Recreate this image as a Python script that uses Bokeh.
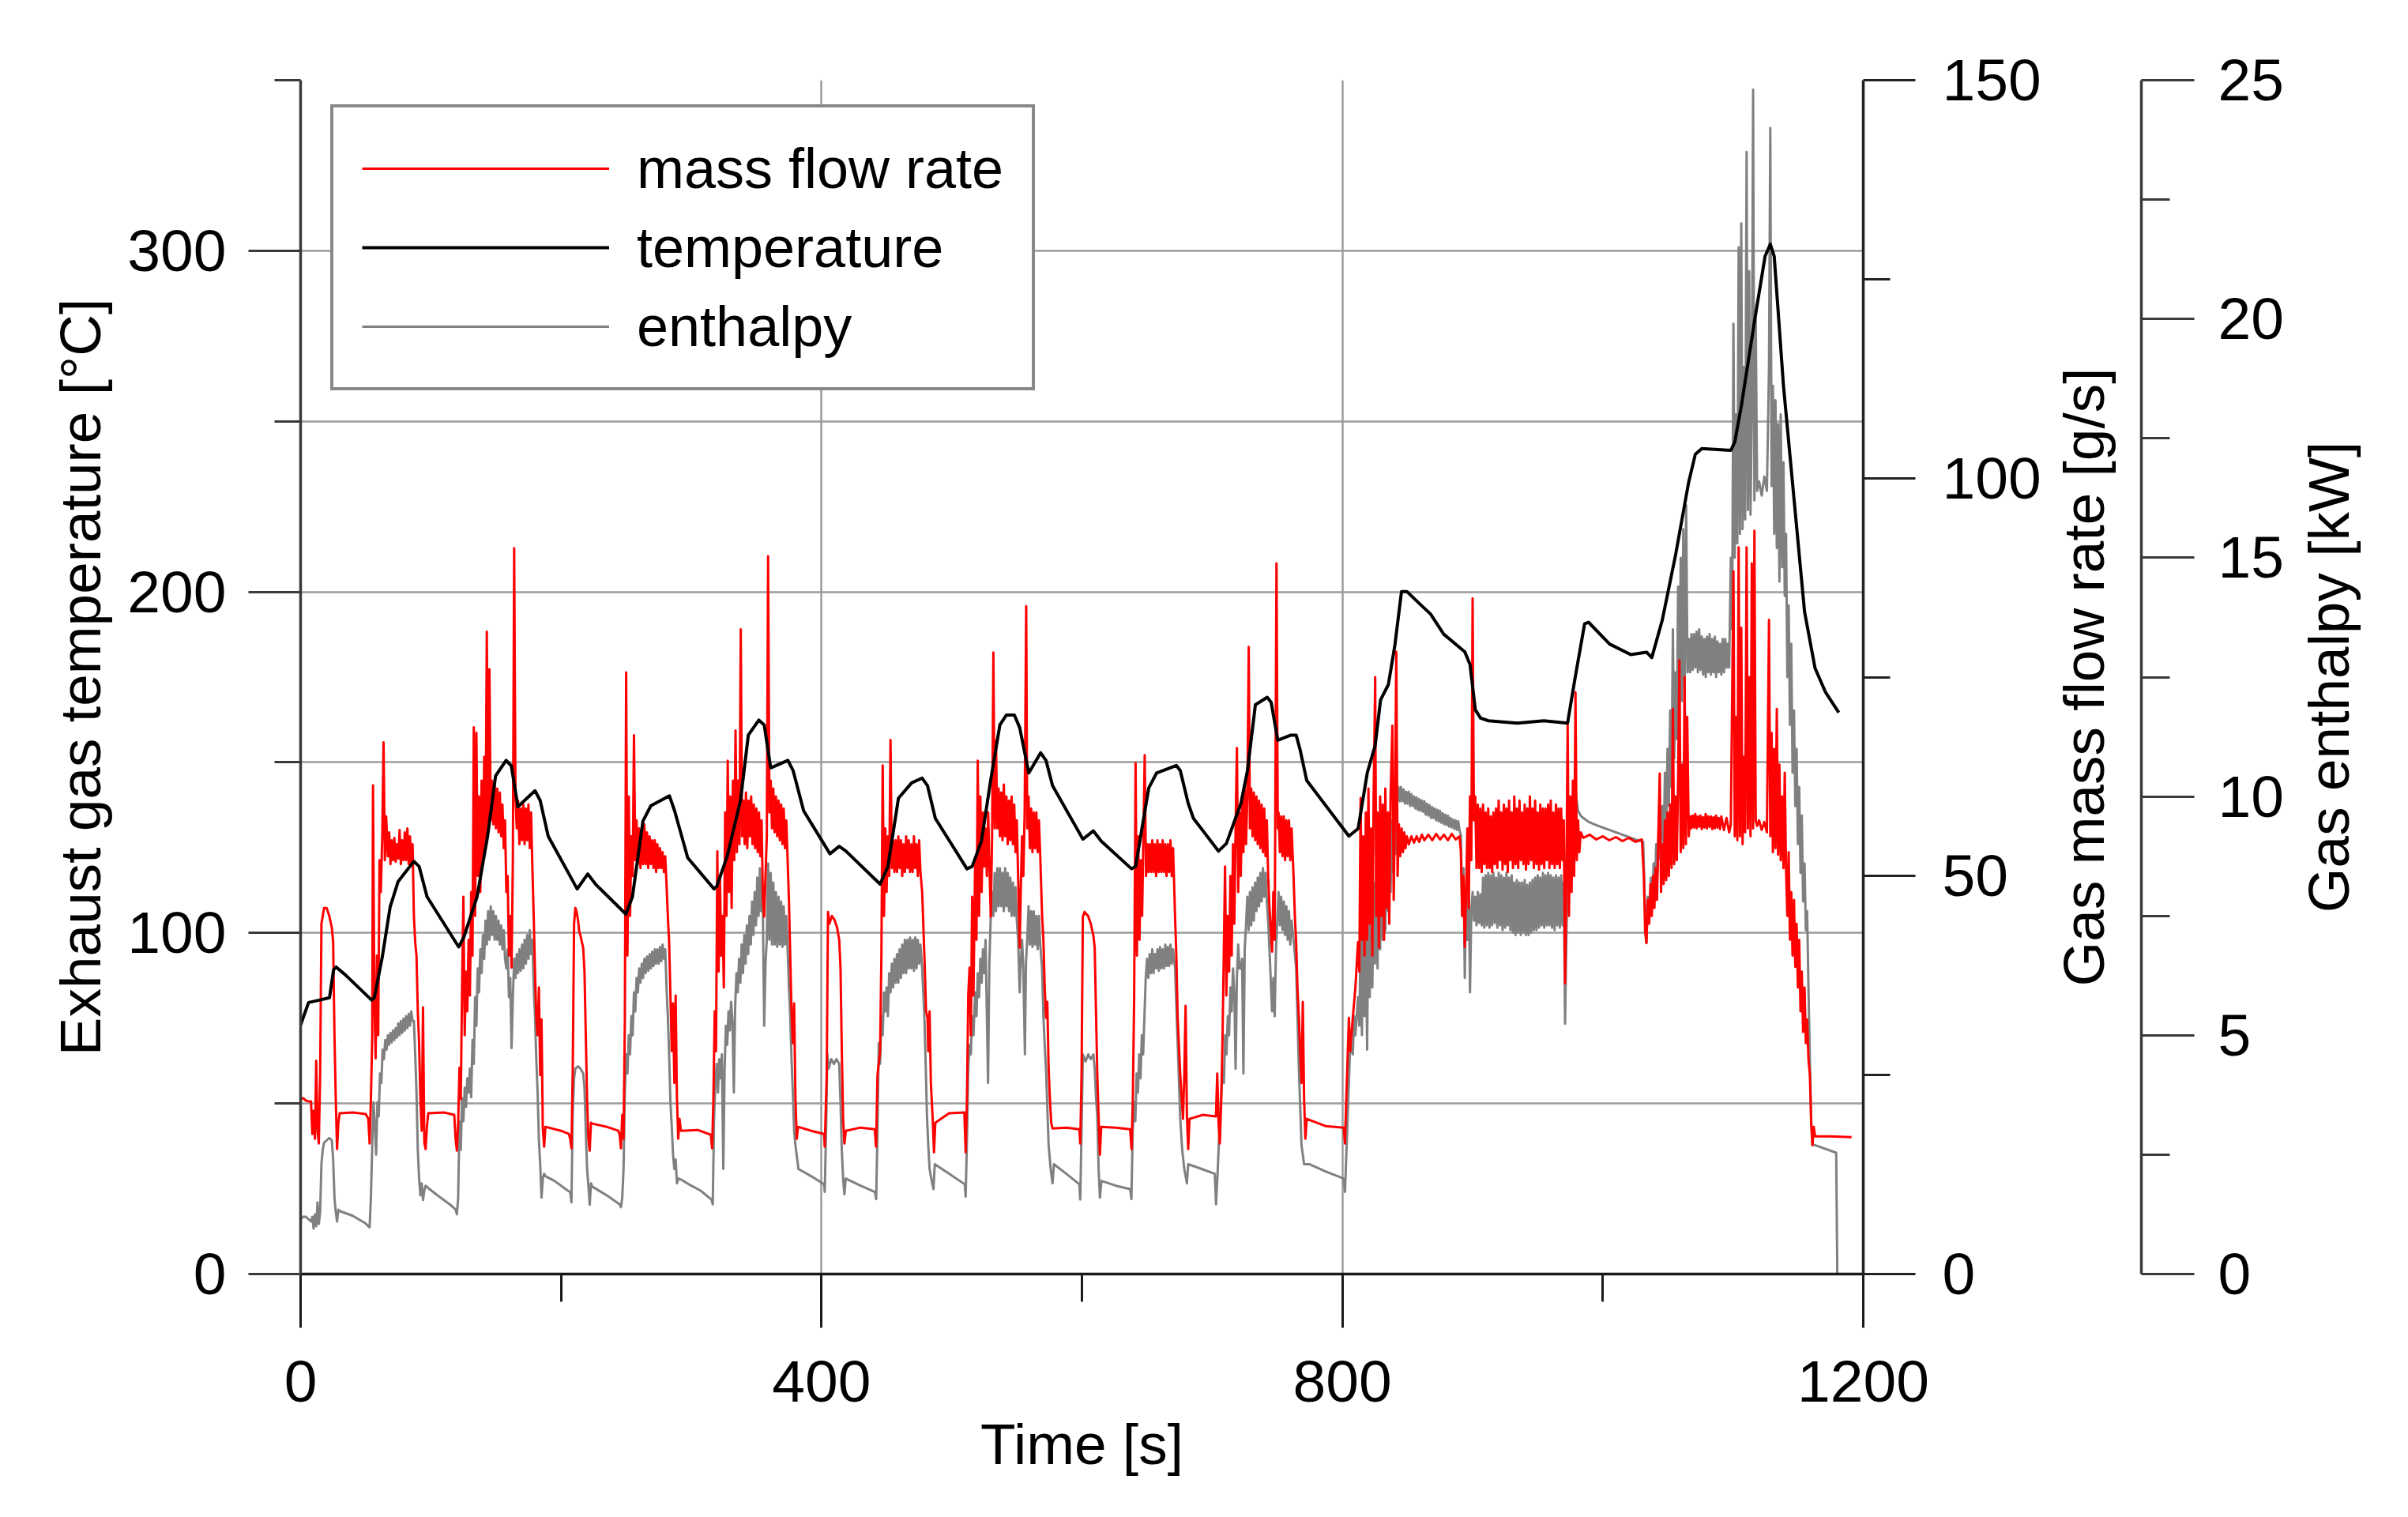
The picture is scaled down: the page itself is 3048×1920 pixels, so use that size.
import math
from bokeh.plotting import figure
from bokeh.layouts import row
from bokeh.models import Range1d, FixedTicker, Legend, LegendItem, Label, LinearAxis
from bokeh.embed import file_html
from bokeh.resources import INLINE

# ---------------- data ----------------
# Exhaust gas temperature [degC] : (time s, value)
TEMP_PTS = [
    (0, 73), (6.1, 79.6), (14.2, 80.3), (22.2, 81), (25.3, 89.2), (27.3, 90), (34.4, 87.7),
    (54.6, 80.3), (56.6, 81), (62.7, 92.9), (68.8, 107.7), (74.8, 115), (87, 121), (91, 119.5),
    (97.1, 110.6), (121.4, 95.9), (125.4, 98.8), (135.5, 110.6), (143.6, 128.4), (149.7, 146),
    (157.8, 150.6), (161.8, 149), (166.9, 137), (171.9, 138.8), (180, 141.7), (184, 138.8),
    (190.1, 128.4), (212.4, 112.9), (220.5, 117.3), (226.5, 114.3), (249.8, 105.5), (254.8, 110.6),
    (262.9, 132.8), (269, 137.3), (283.2, 140.2), (287.2, 135.8), (297.3, 122), (317.5, 112.9),
    (319.5, 113.6), (327.6, 122.5), (337.8, 138.8), (343.8, 158), (351.9, 162.4), (356, 161),
    (361, 148.4), (374.2, 150.6), (378.2, 147.6), (386.3, 135.8), (406.5, 123.2), (413.6, 125.4),
    (418.7, 124), (445, 114.3), (451, 119.5), (459.1, 139.5), (469.2, 144), (477.3, 145.4),
    (481.4, 143.2), (487.4, 133.6), (511.7, 118.8), (515.7, 119.5), (522.8, 126.9), (529.9, 144.7),
    (537, 161), (542, 163.9), (548.1, 163.9), (552.2, 160.2), (559.2, 146.9), (568.3, 152.8),
    (572.4, 150.6), (577.4, 143.2), (600.7, 127.5), (608.8, 129.9), (614.9, 126.9), (638.1, 118.8),
    (641.2, 119.5), (651.3, 142.5), (657.3, 146.9), (672.5, 149.1), (675.5, 147.6), (681.6, 138),
    (685.6, 133.6), (704.9, 124), (710.9, 126.2), (722.1, 138), (727.1, 147.6), (733.2, 166.9),
    (742.3, 169.1), (745.3, 167.6), (750.4, 156.5), (760.5, 158), (764.5, 158), (767.6, 153.6),
    (772.6, 144.7), (805, 128.4), (812.1, 130.6), (819.1, 146.9), (825.2, 155), (829.3, 168.3),
    (835.3, 172.8), (840.4, 184.6), (845.4, 200.1), (849.5, 200.1), (859.6, 196.4), (867.7, 193.5),
    (877.8, 187.6), (894, 182.4), (898, 178.7), (902.1, 165.4), (906.1, 163), (912.2, 162.2),
    (934.4, 161.5), (954.7, 162.2), (972.9, 161.5), (978.9, 175.2), (986, 190.6), (989, 191.1),
    (1005.2, 184.7), (1021.4, 181.6), (1033.6, 182.3), (1037.6, 180.7), (1045.7, 191.8),
    (1055.8, 210.7), (1065.9, 232.1), (1071, 240.3), (1076, 242), (1098.3, 241.5), (1101.3, 243.9),
    (1106.4, 254.6), (1116.5, 279.4), (1124.6, 298.4), (1128.6, 301.9), (1131.6, 298.4),
    (1138.7, 260.5), (1146.8, 227.3), (1154.9, 194.2), (1163, 177.6), (1171.1, 170.5),
    (1181.2, 164.6),
]

# Gas mass flow rate [g/s] : (time s, value)
MASS_PTS = [
    (0, 22.0), (2, 22.1), (4, 21.8), (6, 21.7), (8, 21.7), (9, 17.6), (10, 20.5), (11, 17.0),
    (12, 26.8), (13, 18.0), (14, 16.4), (15, 25.0), (16, 44.0), (18, 46.0), (20, 46.0), (22, 45.0),
    (24, 43.5), (25, 41.7), (26, 30.0), (27, 22.0), (28, 15.7), (29, 19.0), (30, 20.2), (40, 20.3),
    (50, 20.1), (52, 19.5), (53, 16.4), (54, 22.0), (55, 30.0), (55.6, 61.4), (56.6, 35.0),
    (57.6, 27.1), (58.6, 40.0), (59.6, 30.0), (60.6, 52.0), (61.6, 48.0), (62.7, 55.0),
    (63.7, 66.8), (64.7, 52.0), (65.7, 57.5), (67, 52.5), (68, 55.5), (69, 51.5), (70, 54.5),
    (71, 52.0), (72, 54.8), (73, 51.8), (74, 54.0), (75, 52.2), (76, 55.8), (77, 51.5), (78, 54.5),
    (79, 52.0), (80, 55.5), (81, 52.0), (82, 56.0), (83, 51.5), (84, 55.0), (85, 51.5), (86, 54.0),
    (87, 45.0), (88, 41.7), (89, 40.0), (90, 33.0), (91, 29.0), (92, 22.0), (93, 18.0), (94, 33.5),
    (95, 16.5), (96, 15.7), (97, 18.5), (98, 20.2), (110, 20.3), (118, 20.0), (119, 17.0),
    (120, 15.5), (121, 19.0), (122, 25.9), (123, 22.0), (124, 36.0), (125, 47.4), (126, 30.0),
    (127, 38.0), (128, 33.0), (129, 42.0), (130, 35.0), (131, 48.0), (132, 40.0), (133, 68.7),
    (134, 45.0), (135, 68.0), (136, 50.0), (137, 60.0), (138, 48.0), (139, 62.0), (140, 52.0),
    (141, 65.0), (142, 54.0), (143, 80.7), (144, 56.0), (145, 76.0), (146, 57.0), (147, 62.0),
    (148, 56.5), (149, 61.5), (150, 56.0), (151, 61.0), (152, 55.5), (153, 60.5), (154, 55.0),
    (155, 59.0), (156, 53.5), (157, 57.0), (158, 48.0), (159, 50.0), (160, 40.0), (161, 45.0),
    (162, 38.5), (163, 52.0), (164, 91.2), (165, 60.0), (166, 56.0), (167, 59.5), (168, 54.0),
    (169, 58.5), (170, 54.5), (171, 59.0), (172, 54.0), (173, 58.5), (174, 54.5), (175, 59.0),
    (176, 53.5), (177, 58.0), (178, 51.0), (179, 45.0), (180, 38.0), (181, 32.2), (182, 30.0),
    (183, 36.0), (184, 25.0), (185, 32.0), (186, 18.3), (187, 16.0), (188, 18.5), (200, 18.0),
    (206, 17.6), (207, 17.0), (208, 15.8), (209, 25.9), (210, 44.0), (211, 46.0), (212, 45.5),
    (213, 44.5), (214, 43.0), (215, 42.5), (216, 41.7), (217, 41.0), (218, 38.0), (219, 30.0),
    (220, 22.0), (221, 17.0), (222, 15.5), (223, 19.0), (224, 18.9), (235, 18.5), (244, 18.0),
    (245, 17.5), (246, 15.8), (247, 20.0), (248, 17.0), (249, 32.0), (250, 75.6), (251, 40.0),
    (252, 60.0), (253, 45.0), (254, 55.0), (255, 50.0), (256, 67.7), (257, 52.0), (258, 57.0),
    (259, 51.5), (260, 56.0), (261, 51.0), (262, 55.5), (263, 51.5), (264, 56.5), (265, 51.5),
    (266, 55.5), (267, 51.0), (268, 55.0), (269, 51.5), (270, 54.5), (271, 51.0), (272, 54.5),
    (273, 50.5), (274, 54.0), (275, 51.0), (276, 53.5), (277, 51.0), (278, 53.0), (279, 50.5),
    (280, 52.5), (281, 49.0), (282, 45.0), (283, 41.7), (284, 35.0), (285, 28.0), (286, 34.0),
    (287, 24.0), (288, 35.0), (289, 22.0), (290, 17.0), (291, 19.5), (292, 18.0), (305, 18.1),
    (315, 17.5), (316, 15.8), (317, 22.0), (318, 33.0), (319, 28.0), (320, 53.1), (321, 38.0),
    (322, 50.0), (323, 40.0), (324, 45.0), (325, 36.0), (326, 58.0), (327, 45.0), (328, 64.5),
    (329, 48.0), (330, 60.0), (331, 46.0), (332, 62.0), (333, 52.0), (334, 68.3), (335, 53.0),
    (336, 62.0), (337, 54.0), (338, 81.0), (339, 55.0), (340, 59.5), (341, 54.0), (342, 60.5),
    (343, 53.5), (344, 59.5), (345, 55.0), (346, 60.0), (347, 54.0), (348, 59.0), (349, 53.5),
    (350, 58.5), (351, 53.0), (352, 58.0), (353, 52.5), (354, 57.0), (355, 47.0), (356, 44.9),
    (357, 50.0), (358, 55.0), (359, 90.2), (360, 58.0), (361, 62.0), (362, 56.0), (363, 61.0),
    (364, 55.5), (365, 60.0), (366, 55.0), (367, 59.5), (368, 54.5), (369, 59.0), (370, 54.0),
    (371, 58.5), (372, 53.5), (373, 57.0), (374, 52.0), (375, 47.0), (376, 40.0), (377, 33.0),
    (378, 29.0), (379, 34.0), (380, 22.0), (381, 17.0), (382, 18.5), (392, 18.0), (402, 17.6),
    (402.5, 16.0), (404, 25.0), (405, 45.5), (406, 44.0), (408, 45.0), (410, 44.5), (412, 43.5),
    (413.6, 42.0), (414.6, 38.5), (415.6, 28.0), (416.6, 19.5), (417.6, 16.4), (418.7, 18.0),
    (430, 18.4), (440.9, 18.2), (441.9, 16.0), (443, 25.0), (445, 28.0), (446, 40.0), (447, 63.9),
    (448, 45.0), (449, 56.0), (450, 48.0), (451, 55.0), (452, 50.0), (453, 67.1), (454, 51.0),
    (455, 54.5), (456, 50.5), (457, 54.5), (458, 50.5), (459, 55.0), (460, 51.0), (461, 54.5),
    (462, 50.0), (463, 54.0), (464, 50.5), (465, 55.0), (466, 51.0), (467, 54.5), (468, 50.5),
    (469, 54.0), (470, 50.5), (471, 55.0), (472, 51.0), (473, 54.0), (474, 50.0), (475, 54.5),
    (476, 50.5), (477.3, 48.0), (478, 44.9), (479.3, 38.5), (480.3, 33.0), (481.4, 32.2),
    (482, 28.0), (483, 33.0), (484, 24.0), (485.4, 19.5), (486.4, 15.3), (487.4, 19.0),
    (498, 20.2), (509.7, 20.3), (510.7, 15.3), (511.7, 22.0), (512.7, 35.0), (513.7, 38.5),
    (514.7, 30.0), (515.7, 47.4), (516.7, 35.0), (518, 52.0), (519, 42.0), (520, 64.5), (521, 45.0),
    (522, 60.0), (523, 48.0), (524, 58.0), (525, 51.2), (526, 56.0), (527, 50.0), (528, 58.0),
    (529, 51.0), (530, 44.9), (531, 55.0), (532, 78.1), (533, 56.0), (534, 67.0), (535, 56.0),
    (536, 61.0), (537, 55.0), (538, 60.5), (539, 54.5), (540, 61.5), (541, 55.0), (542, 60.0),
    (543, 54.0), (544, 59.5), (545, 54.5), (546, 60.0), (547, 54.0), (548, 59.0), (549, 53.0),
    (550, 57.0), (551, 50.0), (552.2, 41.0), (553, 48.0), (554, 55.0), (555, 50.0), (556, 58.0),
    (557.2, 83.9), (558, 56.0), (559, 60.0), (560, 53.5), (561, 58.5), (562, 53.0), (563, 58.0),
    (564, 53.5), (565, 58.0), (566, 53.0), (567, 57.0), (568, 52.5), (569.4, 45.0), (570.4, 42.0),
    (571.4, 36.0), (572.4, 32.2), (573.4, 34.2), (574.4, 26.0), (575.4, 22.0), (576.4, 19.0),
    (577.4, 18.3), (588, 18.4), (598, 18.2), (598.7, 16.4), (599.7, 25.0), (600.7, 44.9),
    (602, 45.5), (604.7, 45.0), (606.8, 44.0), (608.8, 42.5), (609.8, 41.0), (610.8, 33.0),
    (611.8, 25.0), (612.8, 19.7), (613.8, 15.0), (614.8, 18.5), (626, 18.4), (637, 18.2),
    (638.1, 15.7), (639.1, 22.0), (640.1, 35.0), (641.2, 64.2), (642.2, 40.0), (643.2, 55.0),
    (644.2, 42.0), (645.2, 52.0), (646.2, 45.0), (647.2, 55.0), (648.2, 65.2), (649.2, 50.0),
    (650.2, 54.0), (651, 50.5), (652, 54.0), (653, 50.5), (654, 54.5), (655, 50.5), (656, 54.0),
    (657, 50.0), (658, 54.5), (659, 50.5), (660, 54.0), (661, 50.5), (662, 54.5), (663, 50.5),
    (664, 54.0), (665, 50.0), (666, 54.0), (667, 50.5), (668, 54.5), (669, 50.0), (670, 53.5),
    (671.5, 45.0), (672.5, 40.0), (673.5, 32.2), (675.5, 25.0), (677.6, 19.5), (678.6, 25.0),
    (679.6, 33.7), (680.6, 20.0), (681.6, 15.7), (682.6, 19.5), (693, 20.0), (702.9, 19.8),
    (703.9, 25.2), (704.9, 19.0), (705.9, 16.4), (707, 22.0), (708, 30.0), (709.9, 51.2),
    (710.9, 35.0), (712, 45.0), (713, 38.0), (714, 50.0), (715, 40.0), (716, 54.0), (717, 44.0),
    (718, 56.0), (719, 66.1), (720, 48.0), (721, 58.0), (722, 50.0), (723, 60.0), (724, 53.0),
    (725, 61.5), (726, 54.0), (727, 60.0), (728.1, 78.8), (729, 56.0), (730, 61.0), (731, 55.0),
    (732, 60.5), (733, 54.5), (734, 60.0), (735, 54.0), (736, 59.5), (737, 53.5), (738, 59.0),
    (739, 53.0), (740, 58.5), (741, 52.5), (742, 57.0), (743, 50.0), (744, 46.0), (746, 40.5),
    (747, 48.0), (748, 42.0), (749.4, 89.3), (750.4, 56.0), (751, 58.0), (752, 53.0), (753, 57.5),
    (754, 52.5), (755, 57.5), (756, 52.0), (757, 57.0), (758, 52.5), (759, 57.0), (760, 52.0),
    (761, 56.0), (762.5, 50.0), (763.5, 45.0), (764.5, 41.7), (765.5, 36.0), (766.6, 32.2),
    (767.6, 28.0), (768.6, 24.0), (769.6, 34.2), (770.6, 22.0), (771.6, 17.0), (772.6, 19.5),
    (787, 18.6), (801, 18.4), (802, 16.4), (803, 22.0), (805, 32.2), (806, 28.0), (808, 32.2),
    (810, 36.0), (812, 41.7), (813, 38.0), (814, 59.8), (815, 42.0), (816, 55.0), (817, 40.0),
    (818, 58.0), (819, 42.0), (820, 61.0), (821, 44.0), (822, 56.0), (823, 40.0), (824, 60.0),
    (825.2, 75.0), (826, 45.0), (827, 58.0), (828, 41.0), (829, 60.0), (830, 45.0), (831, 59.0),
    (832, 42.0), (833, 61.0), (834, 46.0), (835, 58.0), (836, 44.0), (837, 60.0), (838.4, 68.9),
    (839.4, 47.0), (840.4, 59.0), (841.4, 78.2), (842.4, 50.0), (843.4, 56.5), (844.4, 52.5),
    (845.5, 56.0), (846.5, 53.0), (847.5, 55.5), (848.5, 53.5), (849.5, 55.0), (851, 54.0),
    (853, 55.0), (855, 54.2), (857, 55.0), (859, 54.3), (861, 55.2), (863, 54.5), (866, 55.2),
    (869, 54.5), (872, 55.3), (875, 54.6), (878, 55.2), (881, 54.5), (884, 55.3), (887, 54.6),
    (890, 55.0), (891, 53.0), (892, 45.0), (893, 50.0), (894, 41.1), (895, 48.0), (896, 56.0),
    (897, 46.0), (898, 60.0), (899, 52.0), (900, 84.9), (901, 57.0), (902, 60.0), (903, 51.0),
    (904, 59.0), (905, 51.0), (906, 58.5), (907, 50.5), (908, 59.0), (909, 51.5), (910, 58.0),
    (911, 51.0), (912, 58.5), (913, 51.0), (914, 57.5), (915, 50.5), (916, 58.0), (917, 51.5),
    (918, 58.5), (919, 51.0), (920, 59.5), (921, 52.0), (922, 58.0), (923, 50.8), (924, 59.0),
    (925, 51.5), (926, 58.5), (927, 50.5), (928, 59.5), (929, 52.0), (930, 58.0), (931, 51.0),
    (932, 60.0), (933, 51.5), (934, 58.5), (935, 51.0), (936, 59.5), (937, 52.0), (938, 58.0),
    (939, 51.5), (940, 59.0), (941, 50.8), (942, 58.5), (943, 51.5), (944, 60.0), (945, 52.0),
    (946, 58.5), (947, 51.0), (948, 59.5), (949, 51.5), (950, 58.0), (951, 50.8), (952, 59.0),
    (953, 51.5), (954, 58.5), (955, 51.0), (956, 58.5), (957, 52.0), (958, 59.0), (959, 51.0),
    (960, 59.5), (961, 51.5), (962, 58.0), (963, 51.0), (964, 59.0), (965, 51.5), (966, 58.5),
    (967, 51.0), (968, 58.5), (969, 52.0), (970, 57.0), (971, 36.5), (972, 50.0),
    (973, 69.0), (974, 45.0), (975, 60.0), (976, 48.0), (977, 62.0), (978, 50.0), (979, 73.1),
    (980, 52.0), (981, 57.0), (982, 53.0), (983, 55.5), (985, 54.8), (990, 55.2), (995, 54.6),
    (1000, 55.0), (1005, 54.5), (1010, 54.9), (1015, 54.4), (1020, 54.8), (1025, 54.3),
    (1030, 54.6), (1031.5, 50.0), (1032.5, 43.0), (1033.5, 41.6), (1034.5, 47.0), (1035.6, 44.0),
    (1036.6, 49.0), (1037.6, 45.0), (1038.6, 50.0), (1039.6, 46.0), (1040.6, 51.0), (1041.6, 47.0),
    (1042.6, 55.0), (1043.7, 62.9), (1044.7, 48.0), (1045.7, 54.0), (1046.7, 49.0), (1047.7, 57.0),
    (1048.7, 49.5), (1049.7, 58.0), (1050.7, 50.0), (1051.7, 59.0), (1052.8, 51.0), (1053.8, 71.0),
    (1054.8, 51.5), (1055.8, 60.0), (1056.8, 52.0), (1057.8, 62.0), (1058.8, 77.1), (1059.8, 53.0),
    (1060.8, 64.0), (1061.8, 53.5), (1062.8, 75.0), (1063.8, 54.0), (1064.8, 70.0), (1066, 55.0),
    (1067, 57.5), (1068, 56.0), (1069, 57.6), (1070, 56.1), (1071, 57.8), (1072, 56.0), (1073, 57.5),
    (1074, 56.2), (1075, 57.6), (1076, 55.9), (1077, 57.4), (1078, 56.1), (1079, 57.8), (1080, 56.0),
    (1081, 57.5), (1082, 56.2), (1083, 57.5), (1084, 55.9), (1085, 57.4), (1086, 56.0), (1087, 57.6),
    (1088, 56.1), (1089, 57.3), (1090, 55.9), (1091, 57.5), (1093, 55.8), (1095, 57.3),
    (1097, 55.5), (1098.3, 56.5), (1100.3, 88.3),
    (1101.3, 55.0), (1102.3, 70.0), (1103.3, 54.5), (1104.3, 91.3), (1105.3, 55.0), (1106.3, 81.2),
    (1107.3, 54.0), (1108.3, 65.0), (1109.3, 55.5), (1110.4, 91.3), (1111.4, 56.0), (1112.4, 75.0),
    (1113.4, 55.0), (1114.4, 89.3), (1115.4, 56.0), (1116.4, 93.4), (1117.4, 57.0), (1118.5, 56.3),
    (1120, 57.0), (1122, 55.8), (1124, 56.8), (1126, 55.5), (1127.6, 82.2), (1128.6, 55.0),
    (1129.6, 68.0), (1130.6, 53.0), (1131.6, 66.0), (1132.6, 53.5), (1133.6, 71.0), (1134.6, 52.7),
    (1135.6, 64.0), (1136.6, 52.0), (1137.7, 60.0), (1138.7, 51.0), (1139.7, 63.0), (1140.7, 50.7),
    (1141.7, 45.0), (1142.7, 53.0), (1143.7, 42.0), (1144.7, 48.0), (1145.7, 40.0), (1146.8, 47.0),
    (1147.8, 38.6), (1148.8, 44.0), (1149.8, 36.0), (1150.8, 42.0), (1151.8, 33.0), (1152.8, 38.0),
    (1153.8, 30.4), (1154.9, 36.0), (1155.9, 29.0), (1156.9, 32.0), (1157.9, 27.0), (1159, 25.0),
    (1160, 19.0), (1161, 16.2), (1162, 18.5), (1163, 17.3), (1175, 17.3), (1191, 17.2),
]

# Gas enthalpy [kW] : (time s, value)
ENTH_PTS = [
    (0, 1.15), (2, 1.2), (4, 1.2), (6, 1.15), (8, 1.1), (9, 1.2), (10, 0.95), (11, 1.25), (12, 1.0),
    (13, 1.5), (14, 1.05), (15, 1.3), (16, 2.3), (17, 2.6), (18, 2.75), (20, 2.8), (22, 2.85),
    (24, 2.8), (25, 2.4), (26, 1.6), (27, 1.3), (28, 1.1), (29, 1.35), (30, 1.32), (40, 1.22),
    (50, 1.06), (52, 1.0), (53, 0.98), (54, 1.6), (55, 2.7), (56, 3.6), (57, 3.1), (58, 2.5),
    (59, 3.6), (60, 3.3), (61, 4.2), (62, 4.0), (63, 4.7), (64, 4.5), (65, 4.9), (66, 4.7),
    (67, 5.0), (68, 4.8), (69, 5.05), (70, 4.85), (71, 5.1), (72, 4.9), (73, 5.15), (74, 4.95),
    (75, 5.25), (76, 5.0), (77, 5.3), (78, 5.05), (79, 5.35), (80, 5.1), (81, 5.4), (82, 5.15),
    (83, 5.45), (84, 5.2), (85, 5.5), (86, 5.3), (87, 5.3), (88, 4.6), (89, 3.8), (90, 2.6), (91, 2.0),
    (92, 1.65), (93, 1.9), (94, 1.55), (95, 1.75), (96, 1.85), (98, 1.8), (105, 1.65), (115, 1.45),
    (119, 1.35), (120, 1.25), (121, 1.6), (122, 3.2), (123, 2.6), (124, 3.68), (125, 3.2),
    (126, 3.9), (127, 3.5), (128, 4.1), (129, 3.8), (130, 4.3), (131, 3.7), (132, 4.9), (133, 4.4),
    (134, 5.8), (135, 5.2), (136, 6.4), (137, 5.9), (138, 6.8), (139, 6.3), (140, 7.1), (141, 6.6),
    (142, 7.4), (143, 6.9), (144, 7.6), (145, 7.0), (146, 7.7), (147, 7.1), (148, 7.6), (149, 7.0),
    (150, 7.5), (151, 7.0), (152, 7.4), (153, 6.9), (154, 7.3), (155, 6.8), (156, 7.2), (157, 6.6),
    (158, 6.4), (159, 6.8), (160, 5.8), (161, 6.2), (162, 4.73), (163, 5.8), (164, 6.6), (165, 6.2),
    (166, 6.7), (167, 6.3), (168, 6.8), (169, 6.35), (170, 6.9), (171, 6.4), (172, 7.0), (173, 6.5),
    (174, 7.1), (175, 6.6), (176, 7.2), (177, 6.7), (178, 7.0), (179, 6.0), (180, 5.4), (181, 4.5),
    (182, 3.8), (183, 2.8), (184, 2.3), (185, 1.6), (186, 2.0), (187, 2.1), (188, 2.05),
    (195, 1.95), (205, 1.75), (207, 1.72), (208, 1.5), (209, 3.4), (210, 4.1), (211, 4.3),
    (213, 4.35), (215, 4.3), (217, 4.2), (218, 3.9), (219, 3.0), (220, 2.2), (221, 1.85),
    (222, 1.45), (223, 1.9), (224, 1.83), (235, 1.65), (245, 1.46), (246, 1.4), (247, 1.6),
    (248, 2.2), (249, 3.8), (250, 4.6), (251, 4.2), (252, 5.0), (253, 4.6), (254, 5.4), (255, 5.0),
    (256, 5.9), (257, 5.5), (258, 6.2), (259, 5.9), (260, 6.4), (261, 6.1), (262, 6.5), (263, 6.2),
    (264, 6.6), (265, 6.3), (266, 6.65), (267, 6.35), (268, 6.7), (269, 6.4), (270, 6.75),
    (271, 6.45), (272, 6.8), (273, 6.5), (274, 6.8), (275, 6.5), (276, 6.85), (277, 6.55),
    (278, 6.9), (279, 6.6), (280, 6.8), (281, 6.0), (282, 5.4), (283, 4.6), (284, 3.6), (285, 3.1),
    (286, 2.5), (287, 2.2), (288, 2.4), (289, 1.9), (290, 2.0), (292, 1.98), (300, 1.85),
    (307, 1.75), (315.5, 1.56), (316.5, 1.46), (317.5, 3.26), (318.5, 4.0), (319.5, 4.4),
    (320.5, 3.8), (321.5, 4.5), (322.5, 4.1), (323.5, 4.6), (324.6, 2.2), (325.6, 4.3), (326.6, 5.2),
    (327.6, 4.8), (328.6, 5.5), (329.6, 5.1), (330.6, 5.7), (331.6, 5.3), (332.7, 3.8), (333.7, 5.6),
    (334.7, 6.3), (335.7, 5.9), (336.7, 6.6), (337.7, 6.1), (338.7, 6.9), (339.7, 6.3), (340.7, 7.1),
    (341.7, 6.5), (342.7, 7.3), (343.7, 6.7), (344.7, 7.5), (345.7, 6.9), (346.7, 7.8), (347.7, 7.1),
    (348.7, 8.0), (349.7, 7.3), (350.7, 8.3), (351.7, 7.5), (352.7, 8.5), (353.7, 7.6), (354.7, 8.2),
    (356, 5.2), (357, 6.5), (358, 7.0), (359, 8.6), (360, 7.0), (361, 8.4), (362, 6.9), (363, 8.2),
    (364, 6.9), (365, 8.0), (366, 6.85), (367, 7.9), (368, 6.9), (369, 7.8), (370, 6.85), (371, 7.7),
    (372, 6.9), (373, 7.5), (374, 6.8), (375, 6.0), (376, 5.4), (377, 4.5), (378, 3.8), (379, 3.0),
    (380, 2.7), (382.3, 2.2), (392, 2.05), (402, 1.88), (402.5, 1.72), (403.5, 3.0), (404.5, 4.6),
    (405.5, 4.3), (407.5, 4.5), (409.5, 4.4), (411.5, 4.5), (413.6, 4.4), (414.6, 3.6), (415.6, 2.6),
    (416.6, 2.0), (417.6, 1.67), (418.6, 2.0), (430, 1.85), (441, 1.72), (442, 1.57), (443, 3.0),
    (444, 4.84), (445, 4.4), (446, 5.4), (447, 5.0), (448, 5.9), (449, 5.5), (450, 6.0), (451, 5.4),
    (452, 6.3), (453, 5.9), (454, 6.5), (455, 6.0), (456, 6.6), (457, 6.1), (458, 6.7), (459, 6.1),
    (460, 6.8), (461, 6.2), (462, 6.9), (463, 6.3), (464, 7.0), (465, 6.3), (466, 7.0), (467, 6.4),
    (468, 7.05), (469, 6.4), (470, 7.0), (471, 6.35), (472, 7.05), (473, 6.4), (474, 7.0),
    (475, 6.5), (476, 6.9), (477.3, 6.4), (479, 5.4), (480, 4.4), (481, 3.3), (482, 2.7), (483, 2.2),
    (485, 1.9), (486, 1.78), (487, 2.3), (498, 2.1), (510, 1.88), (510.7, 1.62), (511.7, 2.8),
    (512.7, 4.3), (513.7, 4.8), (514.7, 4.6), (515.7, 5.4), (516.7, 5.0), (518, 5.9), (519, 5.4),
    (520, 6.3), (521, 5.8), (522, 6.6), (523, 6.1), (524, 6.8), (525, 6.3), (526, 7.0), (527.9, 4.0),
    (528.9, 6.5), (530, 7.5), (531, 8.0), (532, 7.5), (533, 8.4), (534, 7.6), (535, 8.5), (536, 7.7),
    (537, 8.5), (538, 7.7), (539, 8.4), (540, 7.6), (541, 8.5), (542, 7.7), (543, 8.4), (544, 7.6),
    (545, 8.3), (546, 7.5), (547, 8.2), (548, 7.5), (549, 8.1), (550, 7.4), (551, 7.0), (552.2, 5.9),
    (553, 6.5), (554, 7.0), (555, 6.4), (556.2, 4.6), (557, 6.5), (558, 7.0), (559, 7.7), (560, 6.9),
    (561, 7.6), (562, 6.85), (563, 7.6), (564, 6.9), (565, 7.5), (566, 6.8), (567, 7.5), (568, 6.9),
    (569.4, 6.4), (570.4, 5.4), (571.4, 4.8), (572.4, 4.3), (573.4, 3.5), (574.4, 2.7), (576, 2.2),
    (577.4, 1.9), (578.5, 2.3), (588, 2.1), (598, 1.88), (598.7, 1.56), (599.7, 3.0), (600.7, 4.6),
    (602.8, 4.45), (604.8, 4.6), (606.8, 4.5), (608.8, 4.6), (609.8, 4.3), (610.8, 3.7),
    (611.8, 3.3), (612.8, 2.2), (613.8, 1.6), (615, 1.95), (626, 1.85), (637, 1.78), (638, 1.57),
    (639, 3.0), (640, 3.6), (641, 3.2), (642, 4.2), (643, 3.8), (644, 4.6), (645, 4.1), (646, 5.0),
    (647, 4.6), (648, 5.4), (649, 6.2), (650, 6.6), (651, 6.2), (652, 6.7), (653, 6.3), (654, 6.8),
    (655, 6.3), (656, 6.7), (657, 6.4), (658, 6.8), (659, 6.35), (660, 6.85), (661, 6.4), (662, 6.8),
    (663, 6.4), (664, 6.9), (665, 6.45), (666, 6.85), (667, 6.45), (668, 6.9), (669, 6.5),
    (670, 6.8), (671.5, 6.4), (672.5, 5.6), (673.5, 4.84), (675.5, 3.25), (677, 2.6), (678.6, 2.2),
    (680.6, 1.9), (681.6, 2.3), (692, 2.2), (702, 2.1), (703, 1.46), (704, 2.0), (706, 3.3),
    (708, 4.3), (709, 4.0), (710, 5.0), (711, 4.6), (712, 5.4), (713, 5.0), (714, 6.0), (715, 5.5),
    (716, 6.4), (717, 5.9), (718, 4.3), (719, 6.2), (720, 6.9), (721, 6.4), (722, 6.4), (723, 6.6),
    (724, 4.2), (725, 6.8), (726, 7.3), (727, 7.9), (728, 7.2), (729, 8.0), (730, 7.3), (731, 8.1),
    (732, 7.4), (733, 8.2), (734, 7.6), (735, 8.3), (736, 7.7), (737, 8.4), (738, 7.8), (739, 8.5),
    (740, 7.9), (741, 8.4), (742, 7.8), (743, 7.4), (744, 6.8), (746, 5.5), (747, 6.2), (748, 5.4),
    (749, 6.8), (750, 7.4), (751, 8.0), (752, 7.3), (753, 7.9), (754, 7.2), (755, 7.8), (756, 7.1),
    (757, 7.7), (758, 7.0), (759, 7.6), (760, 6.9), (761, 7.4), (762.5, 7.0), (764.5, 6.4),
    (766.6, 4.3), (768.6, 2.7), (770.6, 2.3), (774.6, 2.3), (787, 2.15), (801, 2.0), (802, 1.72),
    (804, 3.25), (806, 4.8), (808, 4.6), (809, 5.4), (810, 5.0), (812, 5.8), (813, 5.2), (814, 7.0),
    (815, 5.0), (816, 7.5), (817, 5.4), (818, 7.2), (819, 4.7), (820, 7.8), (821, 5.8), (822, 8.0),
    (823, 6.0), (824, 8.2), (825, 6.5), (826, 8.5), (827, 6.4), (828, 8.6), (829, 6.8), (830, 8.8),
    (831, 7.0), (832, 9.0), (833, 7.2), (834, 9.2), (835, 7.6), (836, 9.4), (837, 8.0), (838, 9.5),
    (839, 8.4), (840, 9.8), (841, 8.8), (842, 10.0), (843, 10.2), (844, 9.9), (845, 10.2),
    (846, 9.9), (847, 10.15), (848, 9.85), (849, 10.1), (850, 9.85), (851, 10.1), (852, 9.8),
    (853, 10.05), (854, 9.8), (855, 10.0), (856, 9.75), (857, 9.98), (858, 9.72), (859, 9.95),
    (860, 9.7), (861, 9.92), (862, 9.68), (863, 9.9), (864, 9.62), (865, 9.85), (866, 9.6),
    (867, 9.82), (868, 9.55), (869, 9.78), (870, 9.55), (871, 9.75), (872, 9.5), (873, 9.72),
    (874, 9.48), (875, 9.7), (876, 9.45), (877, 9.65), (878, 9.42), (879, 9.62), (880, 9.4),
    (881, 9.6), (882, 9.37), (883, 9.55), (884, 9.35), (885, 9.52), (886, 9.32), (887, 9.5),
    (888, 9.3), (889, 9.48), (890, 9.28), (891, 9.2), (892, 7.5), (893, 8.5), (894, 6.2), (895, 8.0),
    (896, 7.0), (897, 8.4), (898, 5.9), (899, 7.6), (900, 8.0), (901, 7.4), (902, 7.9), (903, 7.3),
    (904, 8.0), (905, 7.35), (906, 7.95), (907, 7.3), (908, 8.3), (909, 7.25), (910, 8.35),
    (911, 7.3), (912, 8.4), (913, 7.25), (914, 8.35), (915, 7.3), (916, 8.4), (917, 7.35),
    (918, 8.3), (919, 7.25), (920, 8.4), (921, 7.3), (922, 8.35), (923, 7.2), (924, 8.3),
    (925, 7.25), (926, 8.4), (927, 7.3), (928, 8.3), (929, 7.2), (930, 8.35), (931, 7.15),
    (932, 8.2), (933, 7.1), (934, 8.25), (935, 7.15), (936, 8.2), (937, 7.1), (938, 8.2),
    (939, 7.15), (940, 8.25), (941, 7.1), (942, 8.15), (943, 7.1), (944, 8.2), (945, 7.15),
    (946, 8.25), (947, 7.2), (948, 8.3), (949, 7.2), (950, 8.35), (951, 7.25), (952, 8.3),
    (953, 7.3), (954, 8.4), (955, 7.25), (956, 8.35), (957, 7.3), (958, 8.4), (959, 7.3),
    (960, 8.35), (961, 7.25), (962, 8.3), (963, 7.2), (964, 8.35), (965, 7.3), (966, 8.3),
    (967, 7.25), (968, 8.35), (969, 7.3), (970, 8.2), (971, 5.24), (972, 7.0),
    (973, 8.5), (974, 8.0), (975, 9.3), (976, 8.8), (977, 9.8), (978, 9.4), (979, 10.1),
    (981, 9.7), (983, 9.6), (985, 9.55), (989, 9.47), (995, 9.4), (1000, 9.35), (1005, 9.3),
    (1010, 9.25), (1015, 9.2), (1020, 9.15), (1025, 9.1), (1031, 9.05), (1032, 8.0),
    (1033.5, 6.93), (1034.5, 7.9), (1035.6, 7.6), (1037, 8.3), (1038, 7.8), (1039, 8.6),
    (1040, 8.1), (1041, 9.0), (1042, 8.4), (1043, 9.5), (1044, 8.7), (1045.7, 9.8), (1046.7, 9.0),
    (1047.7, 10.5), (1048.7, 9.4), (1049.7, 11.0), (1050.7, 9.8), (1051.7, 11.8), (1052.7, 10.2),
    (1053.8, 13.5), (1054.8, 10.8), (1055.8, 12.6), (1056.8, 11.2), (1057.8, 14.4), (1058.8, 11.6),
    (1059.8, 15.0), (1060.8, 12.0), (1061.8, 15.6), (1062.8, 12.3), (1064, 16.1), (1065, 12.6),
    (1066, 13.3), (1067, 12.6), (1068, 13.4), (1069, 12.65), (1070, 13.4), (1071, 12.7),
    (1072, 13.45), (1073, 12.6), (1074, 13.5), (1075, 12.65), (1076, 13.35), (1077, 12.55),
    (1078, 13.3), (1079, 12.5), (1080, 13.35), (1081, 12.6), (1082, 13.4), (1083, 12.55),
    (1084, 13.3), (1085, 12.6), (1086, 13.35), (1087, 12.5), (1088, 13.25), (1089, 12.6),
    (1090, 13.2), (1091, 12.55), (1092, 13.3), (1093, 12.6), (1094, 13.3), (1095, 12.7),
    (1096, 13.2), (1097, 12.7), (1098.3, 15.0), (1099.3, 13.5),
    (1100.3, 19.9), (1101.3, 15.0), (1102.3, 18.0), (1103.3, 15.3), (1104.3, 21.5), (1105.3, 15.5),
    (1106.3, 22.0), (1107.3, 15.6), (1108.3, 19.0), (1109.3, 15.8), (1110.4, 23.5), (1111.4, 16.0),
    (1112.4, 21.0), (1113.4, 15.9), (1114.4, 18.0), (1115.4, 24.8), (1116.4, 16.2), (1117.4, 20.0),
    (1118.5, 16.4), (1120, 16.6), (1122, 16.3), (1124, 16.7), (1126, 16.4), (1127.6, 19.0),
    (1128.6, 24.0), (1129.6, 16.5), (1130.6, 18.6), (1131.6, 15.5), (1132.6, 18.3), (1133.6, 15.2),
    (1134.6, 17.8), (1135.6, 14.5), (1136.6, 18.0), (1137.7, 14.8), (1138.7, 17.0), (1139.7, 14.2),
    (1140.7, 15.5), (1141.7, 12.5), (1142.7, 14.0), (1143.7, 11.5), (1144.7, 13.2), (1145.7, 10.5),
    (1146.8, 11.8), (1147.8, 9.8), (1148.8, 11.0), (1149.8, 9.0), (1150.8, 10.2), (1151.8, 8.4),
    (1152.8, 9.6), (1153.8, 7.8), (1154.9, 8.6), (1155.9, 7.2), (1156.9, 7.6), (1157.9, 6.0),
    (1159, 4.5), (1160, 3.2), (1161, 2.7), (1163, 2.7), (1179.2, 2.54), (1180.2, -0.42),
    (1191.3, -0.42),
]

X_TICKS = [0, 400, 800, 1200]
X_MINOR = [200, 600, 1000]
T_TICKS = [0, 100, 200, 300]
T_MINOR = [50, 150, 250, 350]
M_TICKS = [0, 50, 100, 150]
M_MINOR = [25, 75, 125]
H_TICKS = [0, 5, 10, 15, 20, 25]
H_MINOR = [2.5, 7.5, 12.5, 17.5, 22.5]

LABELS = ["mass flow rate", "temperature", "enthalpy"]
X_TITLE = "Time [s]"
T_TITLE = "Exhaust gas temperature [°C]"
M_TITLE = "Gas mass flow rate [g/s]"
H_TITLE = "Gas enthalpy [kW]"

# ---------------- layout constants ----------------
FONT = "Liberation Sans"
TICK_FS = "75px"
LAB_FS = "73px"
AX_COL = "#3a3a3a"
FRAME_W, FRAME_H = 1978, 1511
TOP, BOTTOM = 101, 292


def style_axis(ax, tick_out, minor_out, standoff, label_standoff, color=AX_COL):
    ax.axis_line_color = color
    ax.axis_line_width = 3.5
    ax.major_tick_line_color = color
    ax.major_tick_line_width = 3
    ax.minor_tick_line_color = color
    ax.minor_tick_line_width = 3
    ax.major_tick_in = 0
    ax.major_tick_out = tick_out
    ax.minor_tick_in = 0
    ax.minor_tick_out = minor_out
    ax.major_label_text_font = FONT
    ax.major_label_text_font_size = TICK_FS
    ax.major_label_text_color = "black"
    ax.major_label_standoff = standoff
    ax.axis_label_text_font = FONT
    ax.axis_label_text_font_size = LAB_FS
    ax.axis_label_text_font_style = "normal"
    ax.axis_label_text_color = "black"
    ax.axis_label_standoff = label_standoff


# ---------------- main figure ----------------
p = figure(frame_width=FRAME_W, frame_height=FRAME_H,
           x_range=Range1d(0, 1200), y_range=Range1d(0, 350),
           output_backend="svg", toolbar_location=None,
           min_border_left=380, min_border_top=TOP, min_border_right=228, min_border_bottom=BOTTOM)
p.extra_y_ranges = {"mass": Range1d(0, 150), "enth": Range1d(0, 25)}
p.outline_line_color = None
p.background_fill_color = "white"
p.border_fill_color = "white"

xa = p.xaxis[0]
xa.ticker = FixedTicker(ticks=X_TICKS, minor_ticks=X_MINOR)
xa.axis_label = X_TITLE
style_axis(xa, 68, 35, 42, 10, color="#1a1a1a")

ya = p.yaxis[0]
ya.ticker = FixedTicker(ticks=T_TICKS, minor_ticks=T_MINOR)
ya.axis_label = T_TITLE
style_axis(ya, 66, 33, 28, 16)

ma = LinearAxis(y_range_name="mass", ticker=FixedTicker(ticks=M_TICKS, minor_ticks=M_MINOR))
style_axis(ma, 66, 34, 34, 20, color="#222222")
p.add_layout(ma, "right")

GRID_COL = "#9c9c9c"
p.xgrid.ticker = FixedTicker(ticks=X_TICKS)
p.xgrid.grid_line_color = GRID_COL
p.xgrid.grid_line_width = 2.5
p.ygrid.grid_line_color = GRID_COL
p.ygrid.grid_line_width = 2.5
p.ygrid.minor_grid_line_color = GRID_COL
p.ygrid.minor_grid_line_width = 2.5

t_h = [a for a, b in ENTH_PTS]
v_h = [b for a, b in ENTH_PTS]
t_m = [a for a, b in MASS_PTS]
v_m = [b for a, b in MASS_PTS]
t_t = [a for a, b in TEMP_PTS]
v_t = [b for a, b in TEMP_PTS]

r_h = p.line(t_h, v_h, y_range_name="enth", line_color="#808080", line_width=3, line_join="round")
r_m = p.line(t_m, v_m, y_range_name="mass", line_color="#ff0000", line_width=3, line_join="round")
r_t = p.line(t_t, v_t, line_color="#000000", line_width=4, line_join="round")

legend = Legend(items=[LegendItem(label=LABELS[0], renderers=[r_m]),
                       LegendItem(label=LABELS[1], renderers=[r_t]),
                       LegendItem(label=LABELS[2], renderers=[r_h])],
                location=(38, 1118))
legend.label_text_font = FONT
legend.label_text_font_size = "72px"
legend.label_text_color = "black"
legend.glyph_width = 313
legend.glyph_height = 80
legend.label_height = 80
legend.label_standoff = 35
legend.spacing = 18
legend.padding = 36
legend.margin = 0
legend.border_line_color = "#111111"
legend.border_line_width = 4
legend.background_fill_alpha = 1.0
p.add_layout(legend)


def side_panel(frame_w, right_border, with_axis):
    f = figure(frame_width=frame_w, frame_height=FRAME_H,
               x_range=Range1d(0, 1), y_range=Range1d(0, 25),
               x_axis_location=None, y_axis_location="right" if with_axis else None,
               output_backend="svg", toolbar_location=None,
               min_border_left=0, min_border_right=right_border,
               min_border_top=TOP, min_border_bottom=BOTTOM)
    f.outline_line_color = None
    f.background_fill_color = "white"
    f.border_fill_color = "white"
    for g in f.grid:
        g.visible = False
    return f


# strip holding the mass-flow title and the enthalpy axis
p2 = side_panel(124, 185, True)
ha = p2.yaxis[0]
ha.ticker = FixedTicker(ticks=H_TICKS, minor_ticks=H_MINOR)
style_axis(ha, 67, 36, 30, 20)
p2.add_layout(Label(x=51, y=FRAME_H / 2, x_units="screen", y_units="screen", text=M_TITLE,
                    angle=math.pi / 2, text_align="center", text_baseline="middle",
                    text_font=FONT, text_font_size=LAB_FS, text_color="black"))

# strip holding the enthalpy title
p3 = side_panel(125, 0, False)
p3.add_layout(Label(x=52, y=FRAME_H / 2, x_units="screen", y_units="screen", text=H_TITLE,
                    angle=math.pi / 2, text_align="center", text_baseline="middle",
                    text_font=FONT, text_font_size=LAB_FS, text_color="black"))

layout = row(p, p2, p3, spacing=0)
open("out.html", "w").write(file_html(layout, INLINE))
